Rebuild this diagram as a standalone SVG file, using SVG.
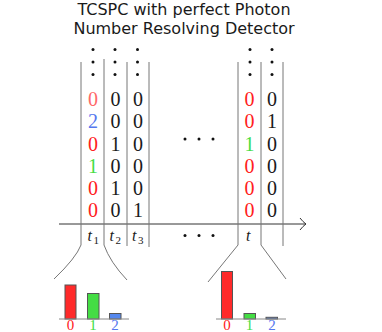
<svg xmlns="http://www.w3.org/2000/svg" width="382" height="332" viewBox="0 0 382 332">
<style>
.title{font-family:"DejaVu Sans",sans-serif;font-size:16px;fill:#1a1a1a;text-anchor:middle}
.d{font-family:"Liberation Serif",serif;font-size:20px;text-anchor:middle;fill:#1a1a1a}
.r{fill:#ff2020}.lr{fill:#ff6868}.g{fill:#44dd44}.b{fill:#5577ee}
.t{font-family:"Liberation Serif",serif;font-size:16px;font-style:italic;fill:#1a1a1a}
.s{font-family:"Liberation Serif",serif;font-size:11px;fill:#1a1a1a}
.lab{font-family:"Liberation Serif",serif;font-size:15px;text-anchor:middle}
.ln{fill:none;stroke:#777;stroke-width:1}
.bar{stroke:#555;stroke-width:1}
.base{stroke:#888;stroke-width:1}
</style>
<defs>
<marker id="arr" markerWidth="10" markerHeight="14" refX="7" refY="7" orient="auto" markerUnits="userSpaceOnUse">
<path d="M1,1 Q4,5 7,7 Q4,9 1,13" fill="none" stroke="#333" stroke-width="1"/>
</marker>
</defs>
<g id="title">
<text class="title" x="184" y="14.5">TCSPC with perfect Photon</text>
<text class="title" x="184" y="33.5">Number Resolving Detector</text>
</g>
<g id="connectors">
<line x1="59" y1="224" x2="306" y2="224" stroke="#333" stroke-width="1" marker-end="url(#arr)"/>
<path class="ln" d="M81,62 V245 Q76,258 54,279"/>
<path class="ln" d="M104,59 V245 Q110,262 127,280"/>
<line class="ln" x1="127" y1="62" x2="127" y2="246"/>
<line class="ln" x1="149" y1="62" x2="149" y2="247"/>
<path class="ln" d="M238,62 V245 L208,282"/>
<path class="ln" d="M261,62 V245 L286,279"/>
<line class="ln" x1="283" y1="62" x2="283" y2="246"/>
</g>
<g id="dots" fill="#111">
<circle cx="93" cy="49.5" r="1.5"/><circle cx="93" cy="62" r="1.5"/><circle cx="93" cy="74.5" r="1.5"/>
<circle cx="115" cy="49.5" r="1.5"/><circle cx="115" cy="62" r="1.5"/><circle cx="115" cy="74.5" r="1.5"/>
<circle cx="137.5" cy="49.5" r="1.5"/><circle cx="137.5" cy="62" r="1.5"/><circle cx="137.5" cy="74.5" r="1.5"/>
<circle cx="250" cy="49.5" r="1.5"/><circle cx="250" cy="62" r="1.5"/><circle cx="250" cy="74.5" r="1.5"/>
<circle cx="272" cy="49.5" r="1.5"/><circle cx="272" cy="62" r="1.5"/><circle cx="272" cy="74.5" r="1.5"/>
<circle cx="185" cy="139" r="1.5"/><circle cx="199" cy="139" r="1.5"/><circle cx="213" cy="139" r="1.5"/>
<circle cx="185" cy="235.5" r="1.5"/><circle cx="199" cy="235.5" r="1.5"/><circle cx="213" cy="235.5" r="1.5"/>
</g>
<g id="col-t1">
<text class="d lr" x="93" y="105.5">0</text>
<text class="d b" x="93" y="128">2</text>
<text class="d r" x="93" y="150.5">0</text>
<text class="d g" x="93" y="172.5">1</text>
<text class="d r" x="93" y="195">0</text>
<text class="d r" x="93" y="217">0</text>
<text class="t" x="87.5" y="241">t</text><text class="s" x="93.5" y="244">1</text>
</g>
<g id="col-t2">
<text class="d" x="115.5" y="105.5">0</text>
<text class="d" x="115.5" y="128">0</text>
<text class="d" x="115.5" y="150.5">1</text>
<text class="d" x="115.5" y="172.5">0</text>
<text class="d" x="115.5" y="195">1</text>
<text class="d" x="115.5" y="217">0</text>
<text class="t" x="109.5" y="241">t</text><text class="s" x="115.5" y="244">2</text>
</g>
<g id="col-t3">
<text class="d" x="138" y="105.5">0</text>
<text class="d" x="138" y="128">0</text>
<text class="d" x="138" y="150.5">0</text>
<text class="d" x="138" y="172.5">0</text>
<text class="d" x="138" y="195">0</text>
<text class="d" x="138" y="217">1</text>
<text class="t" x="132" y="241">t</text><text class="s" x="138" y="244">3</text>
</g>
<g id="col-t">
<text class="d r" x="249.5" y="105.5">0</text>
<text class="d r" x="249.5" y="128">0</text>
<text class="d g" x="249.5" y="150.5">1</text>
<text class="d r" x="249.5" y="172.5">0</text>
<text class="d r" x="249.5" y="195">0</text>
<text class="d r" x="249.5" y="217">0</text>
<text class="t" x="246" y="241">t</text>
</g>
<g id="col-t-next">
<text class="d" x="272" y="105.5">0</text>
<text class="d" x="272" y="128">1</text>
<text class="d" x="272" y="150.5">0</text>
<text class="d" x="272" y="172.5">0</text>
<text class="d" x="272" y="195">0</text>
<text class="d" x="272" y="217">0</text>
</g>
<g id="hist-left">
<rect class="bar" x="65" y="285" width="11" height="34" fill="#ff2a2a"/>
<rect class="bar" x="87.5" y="293.5" width="11.5" height="25.5" fill="#44dd44"/>
<rect class="bar" x="109.5" y="313.5" width="11.5" height="5.5" fill="#5588ee"/>
<line class="base" x1="59" y1="319" x2="129" y2="319"/>
<text class="lab r" x="70.5" y="330">0</text>
<text class="lab g" x="93" y="330">1</text>
<text class="lab b" x="115" y="330">2</text>
</g>
<g id="hist-right">
<rect class="bar" x="221.5" y="271.5" width="11" height="47.5" fill="#ff2a2a"/>
<rect class="bar" x="244" y="313.5" width="11.5" height="5.5" fill="#44dd44"/>
<rect class="bar" x="266" y="317.3" width="11.5" height="1.7" fill="#5588ee"/>
<line class="base" x1="216" y1="319" x2="286" y2="319"/>
<text class="lab r" x="227" y="330">0</text>
<text class="lab g" x="249.5" y="330">1</text>
<text class="lab b" x="272" y="330">2</text>
</g>
</svg>
